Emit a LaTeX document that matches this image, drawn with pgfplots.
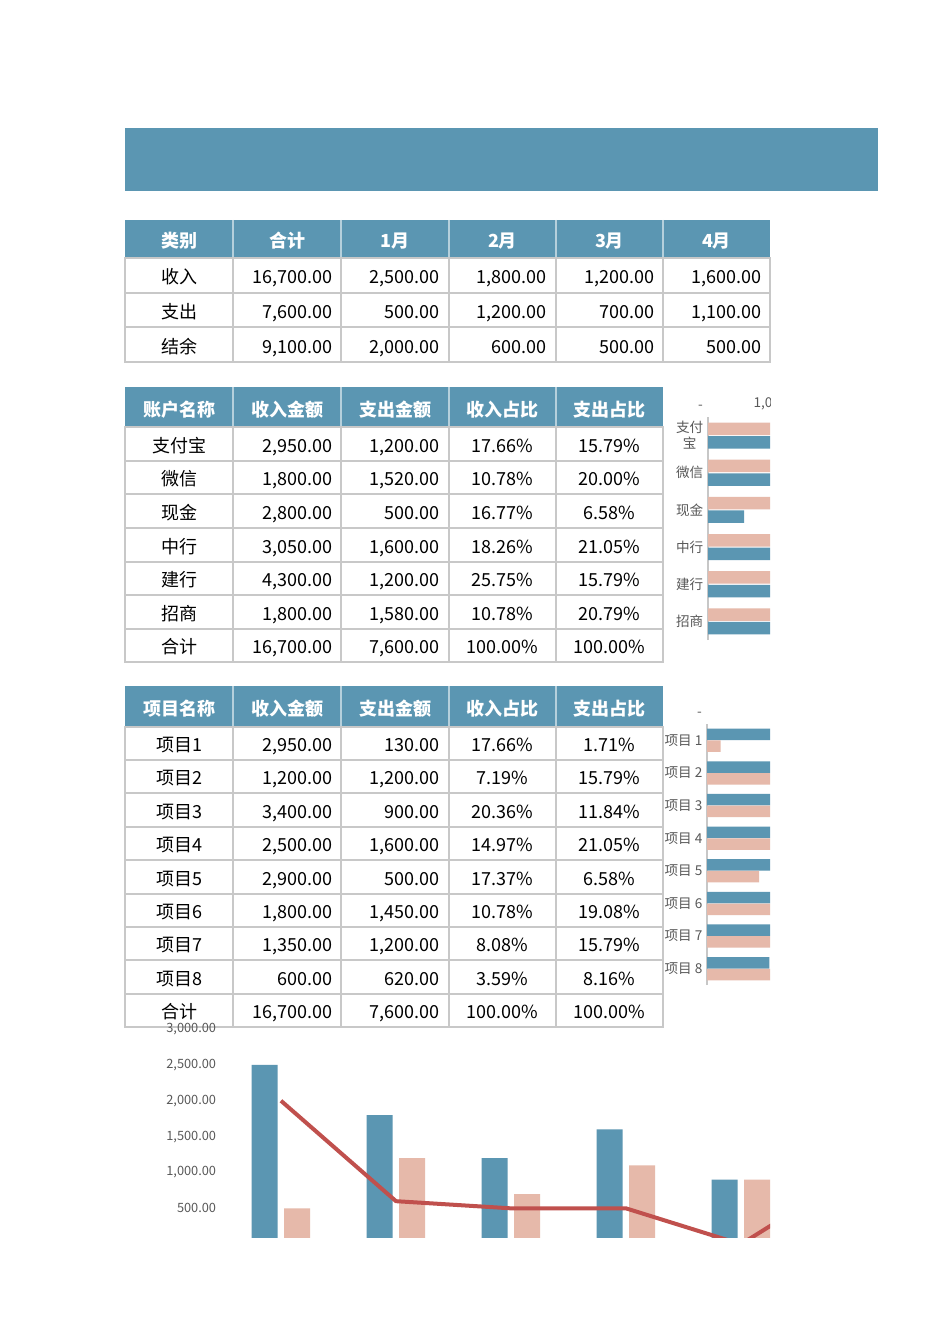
\documentclass[border=0pt]{standalone}
\usepackage{pgfplots}
\pgfplotsset{compat=1.18}
\usepackage{fontspec}
\setmainfont{Noto Sans CJK SC}
\definecolor{hdr}{RGB}{91,150,178}
\definecolor{pk}{RGB}{230,185,170}
\definecolor{ln}{RGB}{192,80,77}
\definecolor{gridc}{RGB}{200,200,200}
\definecolor{tk}{RGB}{89,89,89}
\newcommand\tbl{\fontsize{13.5}{15}\selectfont}
\newcommand\hd{\fontsize{13.5}{15}\selectfont\bfseries}
% one row of the month table (#1 = baseline, px)
\newcommand\rowone[7]{%
  \node[tc] at (179,#1) {#2}; \node[tr] at (333,#1) {#3}; \node[tr] at (440,#1) {#4};
  \node[tr] at (547,#1) {#5}; \node[tr] at (655,#1) {#6}; \node[tr] at (762,#1) {#7};}
% one row of the account / project tables
\newcommand\rowtwo[6]{%
  \node[tc] at (179,#1) {#2}; \node[tr] at (333,#1) {#3}; \node[tr] at (440,#1) {#4};
  \node[tc] at (502.5,#1) {#5}; \node[tc] at (609.5,#1) {#6};}
\pgfplotsset{
  smallbar/.style={
    scale only axis, xbar, xmin=0, xmax=1000,
    axis x line*=top, axis y line*=left,
    x axis line style={draw=none},
    y axis line style={draw=black!22, line width=0.8pt, -},
    major tick length=0pt,
    tick label style={font=\fontsize{10.2}{12}\selectfont, text=tk},
    xticklabel style={yshift=2pt},
    yticklabel style={align=center},
  },
}
\begin{document}
\begin{tikzpicture}[x=0.75pt,y=-0.75pt,
  tc/.style={font=\tbl, inner sep=0pt, anchor=base},
  tr/.style={font=\tbl, inner sep=0pt, anchor=base east},
  th/.style={font=\hd, text=white, inner sep=0pt, anchor=base}]
\fill[white] (0,0) rectangle (950,1344);
\fill[hdr] (125,128) rectangle (878,191);

% ---- table 1
\fill[hdr] (125,220) rectangle (770,258);
\foreach \x in {233,341,449,556,663} \draw[white!55!hdr, line width=1pt] (\x,220) -- (\x,258);
\foreach \x in {233,341,449,556,663} \draw[gridc, line width=1pt] (\x,258) -- (\x,362);
\foreach \y in {293,327} \draw[gridc, line width=1pt] (125,\y) -- (770,\y);
\draw[gridc, line width=1pt] (125,258) rectangle (770,362);
\foreach \c/\t in {179/类别, 287/合计, 395/1月, 502.5/2月, 609.5/3月, 716.5/4月} \node[th] at (\c,248) {\t};
\rowone{284}{收入}{16,700.00}{2,500.00}{1,800.00}{1,200.00}{1,600.00}
\rowone{318}{支出}{7,600.00}{500.00}{1,200.00}{700.00}{1,100.00}
\rowone{353}{结余}{9,100.00}{2,000.00}{600.00}{500.00}{500.00}

% ---- table 2
\fill[hdr] (125,387) rectangle (663,427);
\foreach \x in {233,341,449,556} \draw[white!55!hdr, line width=1pt] (\x,387) -- (\x,427);
\foreach \x in {233,341,449,556} \draw[gridc, line width=1pt] (\x,427) -- (\x,662);
\foreach \y in {461,494,528,562,595,629} \draw[gridc, line width=1pt] (125,\y) -- (663,\y);
\draw[gridc, line width=1pt] (125,427) rectangle (663,662);
\foreach \c/\t in {179/账户名称, 287/收入金额, 395/支出金额, 502.5/收入占比, 609.5/支出占比} \node[th] at (\c,416) {\t};
\rowtwo{452}{支付宝}{2,950.00}{1,200.00}{17.66\%}{15.79\%}
\rowtwo{485}{微信}{1,800.00}{1,520.00}{10.78\%}{20.00\%}
\rowtwo{519}{现金}{2,800.00}{500.00}{16.77\%}{6.58\%}
\rowtwo{553}{中行}{3,050.00}{1,600.00}{18.26\%}{21.05\%}
\rowtwo{586}{建行}{4,300.00}{1,200.00}{25.75\%}{15.79\%}
\rowtwo{620}{招商}{1,800.00}{1,580.00}{10.78\%}{20.79\%}
\rowtwo{653}{合计}{16,700.00}{7,600.00}{100.00\%}{100.00\%}

% ---- table 3
\fill[hdr] (125,686) rectangle (663,727);
\foreach \x in {233,341,449,556} \draw[white!55!hdr, line width=1pt] (\x,686) -- (\x,727);
\foreach \x in {233,341,449,556} \draw[gridc, line width=1pt] (\x,727) -- (\x,1027);
\foreach \y in {760,793,827,860,894,927,960,994} \draw[gridc, line width=1pt] (125,\y) -- (663,\y);
\draw[gridc, line width=1pt] (125,727) rectangle (663,1027);
\foreach \c/\t in {179/项目名称, 287/收入金额, 395/支出金额, 502.5/收入占比, 609.5/支出占比} \node[th] at (\c,715) {\t};
\rowtwo{751}{项目1}{2,950.00}{130.00}{17.66\%}{1.71\%}
\rowtwo{784}{项目2}{1,200.00}{1,200.00}{7.19\%}{15.79\%}
\rowtwo{818}{项目3}{3,400.00}{900.00}{20.36\%}{11.84\%}
\rowtwo{851}{项目4}{2,500.00}{1,600.00}{14.97\%}{21.05\%}
\rowtwo{885}{项目5}{2,900.00}{500.00}{17.37\%}{6.58\%}
\rowtwo{918}{项目6}{1,800.00}{1,450.00}{10.78\%}{19.08\%}
\rowtwo{951}{项目7}{1,350.00}{1,200.00}{8.08\%}{15.79\%}
\rowtwo{985}{项目8}{600.00}{620.00}{3.59\%}{8.16\%}
\rowtwo{1018}{合计}{16,700.00}{7,600.00}{100.00\%}{100.00\%}

\begin{scope}
\clip (0,0) rectangle (770,1237);
% ---- accounts chart (positions in canvas pt: 1px = 0.75pt, y down)
\begin{axis}[smallbar, at={(531pt,-480pt)}, anchor=south west, width=54pt, height=167.25pt,
  ymin=0.5, ymax=6.5, bar width=9.4pt,
  xtick={0,1000}, xticklabels={{-\phantom{00}},{1,000.00}},
  ytick={1,...,6}, yticklabels={招商,建行,中行,现金,微信,{支付\\宝}}]
\addplot[fill=pk, draw=none, bar shift=5.1pt] coordinates {(2950,6) (1800,5) (2800,4) (3050,3) (4300,2) (1800,1)};
\addplot[fill=hdr, draw=none, bar shift=-5.1pt] coordinates {(1200,6) (1520,5) (500,4) (1600,3) (1200,2) (1580,1)};
\end{axis}
% ---- projects chart
\begin{axis}[smallbar, at={(530.25pt,-738.75pt)}, anchor=south west, width=78pt, height=195.75pt,
  ymin=0.5, ymax=8.5, bar width=8.6pt,
  xtick={0}, xticklabels={{-\phantom{00}}},
  ytick={1,...,8}, yticklabels={项目 8,项目 7,项目 6,项目 5,项目 4,项目 3,项目 2,项目 1}]
\addplot[fill=hdr, draw=none, bar shift=4.4pt] coordinates {(600,1) (1350,2) (1800,3) (2900,4) (2500,5) (3400,6) (1200,7) (2950,8)};
\addplot[fill=pk, draw=none, bar shift=-4.4pt] coordinates {(620,1) (1200,2) (1450,3) (500,4) (1600,5) (900,6) (1200,7) (130,8)};
\end{axis}
% ---- monthly chart
\begin{axis}[scale only axis, at={(167.6pt,-933.15pt)}, anchor=south west, width=517.5pt, height=161.4pt,
  xmin=0.5, xmax=6.5, ymin=0, ymax=3000,
  axis line style={draw=none}, major tick length=0pt, xtick=\empty,
  ytick={500,1000,...,3000},
  yticklabel style={font=\fontsize{9.6}{11}\selectfont, text=tk, xshift=-2pt,
    /pgf/number format/.cd, fixed, fixed zerofill, precision=2, 1000 sep={,}, assume math mode=true}]
\addplot[ybar, bar width=19.5pt, bar shift=-12.2pt, fill=hdr, draw=none] coordinates {(1,2500) (2,1800) (3,1200) (4,1600) (5,900)};
\addplot[ybar, bar width=19.5pt, bar shift=12.2pt, fill=pk, draw=none] coordinates {(1,500) (2,1200) (3,700) (4,1100) (5,900)};
\addplot[sharp plot, ln, line width=3pt, line join=round] coordinates {(1,2000) (2,600) (3,500) (4,500) (5,0) (6,1000)};
\end{axis}
\end{scope}
\end{tikzpicture}
\end{document}
